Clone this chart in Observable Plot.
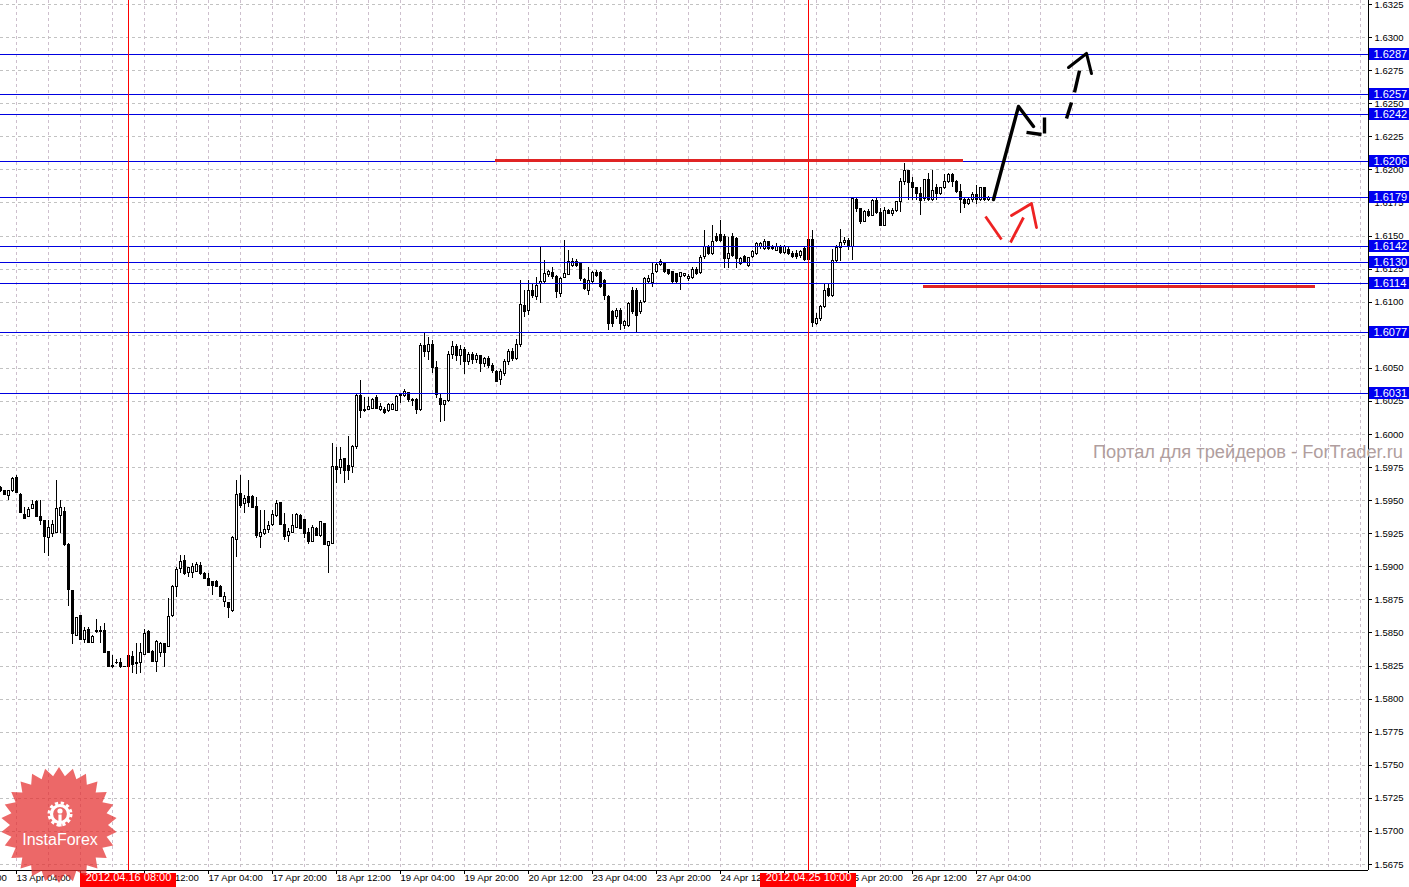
<!DOCTYPE html>
<html><head><meta charset="utf-8">
<script src="https://cdn.jsdelivr.net/npm/d3@7"></script>
<script src="https://cdn.jsdelivr.net/npm/@observablehq/plot@0.6"></script>
<style>
html,body{margin:0;padding:0;background:#fff;overflow:hidden;}
#chart{width:1409px;height:887px;}
svg g[aria-label="rule"] line, svg g[aria-label="rect"] rect {shape-rendering:crispEdges;}
</style></head><body><div id="chart"></div>
<script>
// ---- GBPUSD H1 candles, bar index 0 = 13 Apr 00:00 (weekends skipped) ----
const open = [1.59594,1.59569,1.59536,1.59571,1.59672,1.59543,1.59392,1.59380,1.59438,1.59488,
1.59380,1.59344,1.59218,1.59249,1.59256,1.59387,1.59412,1.59165,1.58820,1.58480,
1.58629,1.58447,1.58525,1.58422,1.58508,1.58515,1.58515,1.58354,1.58246,1.58271,
1.58273,1.58243,1.58324,1.58319,1.58268,1.58273,1.58334,1.58510,1.58359,1.58278,
1.58346,1.58417,1.58397,1.58626,1.58850,1.58984,1.59047,1.58951,1.58951,1.58964,
1.59009,1.58946,1.58908,1.58883,1.58888,1.58850,1.58732,1.58727,1.58669,1.59203,
1.59551,1.59475,1.59531,1.59525,1.59450,1.59223,1.59248,1.59281,1.59316,1.59382,
1.59480,1.59316,1.59231,1.59253,1.59291,1.59387,1.59357,1.59253,1.59190,1.59286,
1.59231,1.59324,1.59160,1.59173,1.59752,1.59745,1.59815,1.59765,1.59752,1.59903,
1.60294,1.60188,1.60186,1.60193,1.60276,1.60186,1.60188,1.60181,1.60186,1.60181,
1.60292,1.60294,1.60314,1.60261,1.60261,1.60188,1.60670,1.60620,1.60680,1.60500,
1.60270,1.60220,1.60250,1.60600,1.60660,1.60590,1.60640,1.60550,1.60600,1.60560,
1.60590,1.60530,1.60570,1.60520,1.60470,1.60410,1.60460,1.60550,1.60620,1.60570,
1.60680,1.60973,1.60930,1.61088,1.61037,1.61134,1.61151,1.61206,1.61220,1.61189,
1.61058,1.61184,1.61206,1.61277,1.61307,1.61289,1.61168,1.61088,1.61151,1.61219,
1.61219,1.61163,1.61037,1.60924,1.60886,1.60930,1.60823,1.60823,1.61083,1.61088,
1.60924,1.61000,1.61151,1.61143,1.61231,1.61282,1.61297,1.61244,1.61226,1.61214,
1.61189,1.61201,1.61176,1.61184,1.61246,1.61221,1.61340,1.61415,1.61365,1.61491,
1.61504,1.61491,1.61327,1.61491,1.61478,1.61289,1.61340,1.61277,1.61340,1.61365,
1.61415,1.61403,1.61453,1.61415,1.61390,1.61415,1.61372,1.61395,1.61365,1.61365,
1.61352,1.61400,1.61320,1.61470,1.60836,1.60873,1.60962,1.61100,1.61045,1.61310,
1.61410,1.61445,1.61466,1.61415,1.61776,1.61705,1.61604,1.61685,1.61650,1.61768,
1.61672,1.61579,1.61692,1.61667,1.61690,1.61755,1.61907,1.61990,1.61902,1.61864,
1.61818,1.61780,1.61920,1.61770,1.61860,1.61820,1.61860,1.61910,1.61960,1.61910,
1.61830,1.61770,1.61740,1.61770,1.61810,1.61770,1.61860,1.61770];
const high = [1.59606,1.59576,1.59576,1.59677,1.59690,1.59551,1.59450,1.59450,1.59501,1.59501,
1.59501,1.59349,1.59349,1.59349,1.59652,1.59501,1.59450,1.59173,1.58820,1.58619,
1.58634,1.58543,1.58543,1.58477,1.58601,1.58551,1.58568,1.58356,1.58329,1.58299,
1.58309,1.58246,1.58329,1.58362,1.58417,1.58422,1.58523,1.58518,1.58367,1.58442,
1.58430,1.58422,1.58757,1.58858,1.58992,1.59085,1.59085,1.58997,1.59022,1.59034,
1.59034,1.58954,1.58946,1.58883,1.58896,1.58855,1.58808,1.58732,1.59228,1.59652,
1.59690,1.59538,1.59652,1.59538,1.59525,1.59425,1.59425,1.59341,1.59425,1.59500,
1.59488,1.59399,1.59286,1.59394,1.59399,1.59392,1.59357,1.59286,1.59311,1.59294,
1.59341,1.59329,1.59193,1.59934,1.59903,1.59898,1.59815,1.59987,1.59916,1.60312,
1.60407,1.60281,1.60281,1.60269,1.60294,1.60231,1.60206,1.60236,1.60231,1.60294,
1.60307,1.60337,1.60314,1.60274,1.60269,1.60690,1.60770,1.60730,1.60710,1.60550,
1.60300,1.60260,1.60630,1.60700,1.60680,1.60670,1.60660,1.60620,1.60620,1.60610,
1.60600,1.60580,1.60590,1.60540,1.60480,1.60490,1.60570,1.60640,1.60650,1.60720,
1.61163,1.61088,1.61163,1.61130,1.61189,1.61415,1.61315,1.61240,1.61260,1.61200,
1.61190,1.61466,1.61390,1.61327,1.61320,1.61300,1.61180,1.61264,1.61230,1.61240,
1.61230,1.61170,1.61050,1.60940,1.60950,1.60950,1.60860,1.61000,1.61113,1.61100,
1.61010,1.61189,1.61200,1.61302,1.61302,1.61320,1.61302,1.61250,1.61230,1.61220,
1.61226,1.61220,1.61210,1.61260,1.61260,1.61350,1.61540,1.61430,1.61580,1.61520,
1.61620,1.61510,1.61491,1.61516,1.61490,1.61340,1.61350,1.61340,1.61390,1.61450,
1.61450,1.61470,1.61460,1.61430,1.61440,1.61430,1.61430,1.61410,1.61380,1.61390,
1.61390,1.61410,1.61500,1.61542,1.60911,1.60974,1.61138,1.61130,1.61395,1.61428,
1.61549,1.61491,1.61478,1.61793,1.61780,1.61710,1.61690,1.61700,1.61773,1.61780,
1.61705,1.61718,1.61700,1.61710,1.61760,1.61932,1.62045,1.61995,1.61940,1.61869,
1.61870,1.61930,1.61970,1.61995,1.61890,1.61870,1.61965,1.61970,1.61970,1.61920,
1.61890,1.61780,1.61780,1.61830,1.61880,1.61860,1.61870,1.61800];
const low = [1.59564,1.59538,1.59501,1.59564,1.59551,1.59400,1.59357,1.59375,1.59433,1.59375,
1.59312,1.59102,1.59077,1.59223,1.59249,1.59249,1.59153,1.58702,1.58410,1.58475,
1.58442,1.58422,1.58422,1.58417,1.58493,1.58422,1.58344,1.58236,1.58228,1.58261,
1.58228,1.58236,1.58241,1.58190,1.58185,1.58190,1.58329,1.58341,1.58278,1.58203,
1.58316,1.58236,1.58392,1.58619,1.58770,1.58946,1.58934,1.58921,1.58908,1.58959,
1.58934,1.58903,1.58858,1.58782,1.58845,1.58765,1.58694,1.58611,1.58656,1.59072,
1.59438,1.59400,1.59450,1.59437,1.59215,1.59140,1.59236,1.59248,1.59306,1.59374,
1.59311,1.59198,1.59185,1.59248,1.59286,1.59281,1.59210,1.59165,1.59185,1.59231,
1.59223,1.59160,1.58946,1.59168,1.59626,1.59694,1.59631,1.59651,1.59702,1.59883,
1.60118,1.60168,1.60181,1.60186,1.60186,1.60176,1.60150,1.60168,1.60181,1.60176,
1.60236,1.60281,1.60244,1.60213,1.60150,1.60170,1.60580,1.60560,1.60460,1.60270,
1.60090,1.60100,1.60240,1.60570,1.60550,1.60520,1.60450,1.60520,1.60530,1.60540,
1.60470,1.60510,1.60500,1.60460,1.60390,1.60370,1.60440,1.60520,1.60550,1.60560,
1.60660,1.60886,1.60898,1.61030,1.61010,1.60987,1.61138,1.61190,1.61170,1.61025,
1.61037,1.61176,1.61200,1.61264,1.61260,1.61160,1.61090,1.61050,1.61140,1.61190,
1.61100,1.61012,1.60785,1.60810,1.60870,1.60785,1.60790,1.60811,1.60910,1.60760,
1.60910,1.60987,1.61140,1.61113,1.61214,1.61270,1.61214,1.61200,1.61140,1.61140,
1.61088,1.61190,1.61160,1.61170,1.61200,1.61210,1.61320,1.61350,1.61350,1.61450,
1.61450,1.61252,1.61252,1.61340,1.61252,1.61280,1.61290,1.61260,1.61330,1.61350,
1.61400,1.61390,1.61390,1.61390,1.61380,1.61360,1.61360,1.61350,1.61330,1.61320,
1.61330,1.61310,1.61310,1.60808,1.60823,1.60856,1.60949,1.61037,1.61037,1.61300,
1.61310,1.61430,1.61390,1.61314,1.61680,1.61590,1.61600,1.61640,1.61645,1.61660,
1.61574,1.61570,1.61660,1.61650,1.61680,1.61680,1.61880,1.61768,1.61770,1.61768,
1.61655,1.61760,1.61760,1.61760,1.61770,1.61810,1.61850,1.61900,1.61870,1.61820,
1.61670,1.61710,1.61730,1.61750,1.61740,1.61760,1.61760,1.61760];
const close = [1.59576,1.59543,1.59571,1.59664,1.59559,1.59407,1.59362,1.59430,1.59468,1.59380,
1.59344,1.59223,1.59291,1.59312,1.59438,1.59443,1.59165,1.58825,1.58493,1.58614,
1.58447,1.58518,1.58427,1.58472,1.58513,1.58505,1.58346,1.58241,1.58251,1.58276,
1.58241,1.58239,1.58246,1.58258,1.58273,1.58349,1.58493,1.58346,1.58283,1.58430,
1.58417,1.58349,1.58619,1.58850,1.58979,1.59034,1.58946,1.58989,1.58997,1.59014,
1.58946,1.58908,1.58858,1.58858,1.58850,1.58770,1.58770,1.58687,1.59218,1.59543,
1.59463,1.59513,1.59483,1.59442,1.59231,1.59256,1.59278,1.59311,1.59394,1.59475,
1.59316,1.59223,1.59266,1.59311,1.59392,1.59286,1.59248,1.59190,1.59294,1.59236,
1.59336,1.59168,1.59190,1.59752,1.59735,1.59808,1.59727,1.59727,1.59908,1.60294,
1.60181,1.60176,1.60211,1.60261,1.60193,1.60211,1.60160,1.60223,1.60226,1.60281,
1.60297,1.60319,1.60261,1.60251,1.60188,1.60670,1.60620,1.60680,1.60500,1.60300,
1.60220,1.60250,1.60600,1.60660,1.60590,1.60640,1.60550,1.60600,1.60560,1.60590,
1.60530,1.60570,1.60520,1.60480,1.60400,1.60470,1.60550,1.60620,1.60570,1.60680,
1.60980,1.60924,1.61088,1.61050,1.61126,1.61155,1.61214,1.61226,1.61190,1.61075,
1.61176,1.61214,1.61307,1.61307,1.61277,1.61176,1.61100,1.61163,1.61219,1.61201,
1.61113,1.61050,1.60836,1.60836,1.60930,1.60836,1.60848,1.60987,1.60924,1.60898,
1.60995,1.61176,1.61176,1.61214,1.61282,1.61302,1.61226,1.61214,1.61151,1.61151,
1.61219,1.61214,1.61194,1.61246,1.61214,1.61335,1.61415,1.61365,1.61453,1.61466,
1.61466,1.61327,1.61365,1.61352,1.61327,1.61327,1.61302,1.61335,1.61378,1.61436,
1.61436,1.61453,1.61403,1.61403,1.61420,1.61372,1.61420,1.61365,1.61340,1.61340,
1.61378,1.61320,1.61470,1.60839,1.60873,1.60962,1.61088,1.61045,1.61310,1.61410,
1.61445,1.61466,1.61415,1.61781,1.61705,1.61604,1.61685,1.61650,1.61768,1.61672,
1.61579,1.61692,1.61667,1.61690,1.61755,1.61907,1.61995,1.61902,1.61864,1.61818,
1.61768,1.61920,1.61770,1.61840,1.61820,1.61860,1.61910,1.61960,1.61910,1.61830,
1.61770,1.61740,1.61770,1.61810,1.61770,1.61860,1.61770,1.61790];

// time axis labels (bar index of each labelled hour); the two labels hidden under the
// highlighted event stamps are not shown in the original, so they are left out here
const timeLabels = ["12 Apr 12:00","13 Apr 04:00","16 Apr 12:00","17 Apr 04:00","17 Apr 20:00",
  "18 Apr 12:00","19 Apr 04:00","19 Apr 20:00","20 Apr 12:00","23 Apr 04:00","23 Apr 20:00","24 Apr 12:00",
  "25 Apr 20:00","26 Apr 12:00","27 Apr 04:00"];
const timeLabelBars = [-12,4,36,52,68,84,100,116,132,148,164,180,212,228,244];
const timeTickBars = [-12,4,20,36,52,68,84,100,116,132,148,164,180,196,212,228,244];
// vertical event lines
const eventBars = [32, 202];
const eventLabels = ["2012.04.16 08:00","2012.04.25 10:00"];
// horizontal price levels
const levels = [1.6287,1.6257,1.6242,1.6206,1.6179,1.6142,1.6130,1.6114,1.6077,1.6031];
// red thick analyst lines
const redStart = [123.75, 230.75];
const redEnd = [240.75, 328.75];
const redPrice = [1.62071, 1.61122];
// black forecast arrow
const blackBars = [248.25, 254.5, 258.25];
const blackPrices = [1.61776, 1.62479, 1.62328];
const blackDashX1 = [256.5, 261, 266.5, 268.5];
const blackDashY1 = [1.62283, 1.62396, 1.62388, 1.62585];
const blackDashX2 = [260.25, 261, 267.75, 269.75];
const blackDashY2 = [1.62267, 1.62275, 1.62509, 1.62751];
const blackHeadBars = [267, 271.5, 272.75];
const blackHeadPrices = [1.62774, 1.6288, 1.62728];
// red alternative arrow
const redArrX1 = [246.25, 252.5];
const redArrY1 = [1.61648, 1.61451];
const redArrX2 = [250.25, 255.75];
const redArrY2 = [1.61474, 1.6164];
const redHeadBars = [252.75, 257.75, 259];
const redHeadPrices = [1.61655, 1.61746, 1.61564];

const watermark = "Портал для трейдеров - ForTrader.ru";

// ---- build ----
const W = 1409, H = 887, MR = 41, MB = 17;
const xMax = 342;
const yDomain = [1.567043, 1.632802];
const pxY = (yDomain[1] - yDomain[0]) / (H - MB);
const bars = open.map((o, i) => ({k: i, open: o, high: high[i], low: low[i], close: close[i]}));
const bull = bars.filter(d => d.close >= d.open);
const bear = bars.filter(d => d.close < d.open);
const yTicks = d3.range(0, 27).map(i => +(1.5675 + i * 0.0025).toFixed(4));
const gridBars = d3.range(4, xMax, 8);
const idx2 = [0, 1];
const dashIdx = d3.range(blackDashX1.length);
const blackPts = blackBars.map((b, i) => [b, blackPrices[i]]);
const blackHead = blackHeadBars.map((b, i) => [b, blackHeadPrices[i]]);
const redHead = redHeadBars.map((b, i) => [b, redHeadPrices[i]]);
const levelColor = "#0000e0";

const plot = Plot.plot({
  width: W, height: H,
  marginLeft: 0, marginRight: MR, marginTop: 0, marginBottom: MB,
  x: {domain: [0, xMax], axis: null},
  y: {domain: yDomain, axis: null},
  style: {fontFamily: "'Liberation Sans', Arial, sans-serif", background: "#fff", overflow: "hidden"},
  marks: [
    // grid
    Plot.ruleX(gridBars, {x: d => d, stroke: "#cdbfcd", strokeDasharray: "3,3"}),
    Plot.ruleY(yTicks, {y: d => d, stroke: "#c2c2c2", strokeDasharray: "3,3"}),
    // candles
    Plot.ruleX(bars, {x: "k", y1: "low", y2: "high", stroke: "#000"}),
    Plot.rect(bear, {x1: d => d.k - 0.25, x2: d => d.k + 0.25, y1: "open", y2: "close", fill: "#000", stroke: "#000"}),
    Plot.rect(bull, {x1: d => d.k - 0.25, x2: d => d.k + 0.25,
      y1: d => d.open, y2: d => Math.max(d.close, d.open + pxY * 0.6), fill: "#fff", stroke: "#000"}),
    // objects
    Plot.ruleY(levels, {y: d => d, stroke: levelColor}),
    Plot.ruleX(eventBars, {x: d => d, stroke: "#ff0000"}),
    Plot.ruleY(idx2, {y: i => redPrice[i], x1: i => redStart[i], x2: i => redEnd[i], stroke: "#e02424", strokeWidth: 3}),
    Plot.line(blackPts, {x: d => d[0], y: d => d[1], stroke: "#000", strokeWidth: 3.4}),
    Plot.link(dashIdx, {x1: i => blackDashX1[i], y1: i => blackDashY1[i], x2: i => blackDashX2[i], y2: i => blackDashY2[i], stroke: "#000", strokeWidth: 3.4}),
    Plot.line(blackHead, {x: d => d[0], y: d => d[1], stroke: "#000", strokeWidth: 3}),
    Plot.link(idx2, {x1: i => redArrX1[i], y1: i => redArrY1[i], x2: i => redArrX2[i], y2: i => redArrY2[i], stroke: "#ee2222", strokeWidth: 2.8}),
    Plot.line(redHead, {x: d => d[0], y: d => d[1], stroke: "#ee2222", strokeWidth: 2.8}),
    // axes
    Plot.ruleX([xMax], {x: d => d, stroke: "#000"}),
    Plot.ruleY([yDomain[0]], {y: d => d, stroke: "#000"}),
    Plot.ruleY(yTicks, {y: d => d, x1: xMax, x2: xMax + 1, stroke: "#000"}),
    Plot.text(yTicks, {x: xMax, y: d => d, dx: 6, text: d => d.toFixed(4), textAnchor: "start", fontSize: 9.5, fill: "#000"}),
    Plot.ruleX(timeTickBars, {x: d => d, y1: yDomain[0], y2: yDomain[0] - 4 * pxY, stroke: "#000"}),
    Plot.text(timeLabelBars, {x: d => d, frameAnchor: "bottom", dy: 10.5, text: (d, i) => timeLabels[i], textAnchor: "start", fontSize: 9.6, fill: "#000"}),
    // event labels
    Plot.rect(eventBars, {x1: d => d - 12, x2: d => d + 12, y1: yDomain[0] - 3 * pxY, y2: yDomain[0] - 18 * pxY, fill: "#ff0000"}),
    Plot.text(eventBars, {x: d => d, frameAnchor: "bottom", dy: 10.5, text: (d, i) => eventLabels[i], fill: "#fff", fontSize: 11}),
    // level labels
    Plot.rect(levels, {x1: xMax + 0.25, x2: xMax + 10.5, y1: d => d - 6 * pxY, y2: d => d + 6 * pxY, fill: "#0000f0"}),
    Plot.text(levels, {x: xMax, y: d => d, dx: 5, text: d => d.toFixed(4), textAnchor: "start", fill: "#fff", fontSize: 11})
  ]
});
document.getElementById("chart").appendChild(plot);

// watermark
const svg = d3.select(plot);
const sx = plot.scale("x"), sy = plot.scale("y");
svg.append("text")
  .attr("x", sx.apply(273.25)).attr("y", sy.apply(1.5982))
  .attr("text-anchor", "start")
  .attr("font-family", "'Liberation Sans', Arial, sans-serif").attr("font-size", 18)
  .attr("fill", "#b09e9e").attr("textLength", 310).attr("lengthAdjust", "spacingAndGlyphs")
  .text(watermark);

// InstaForex badge (corner logo)
const cx = 59, cy = 825, nSp = 26, rO = 58, rI = 49;
const pts = d3.range(nSp * 2).map(i => {
  const a = Math.PI * i / nSp - Math.PI / 2, r = i % 2 ? rI : rO;
  return [cx + r * Math.cos(a), cy + r * Math.sin(a)];
});
const logo = svg.append("g");
logo.append("path").attr("d", "M" + pts.map(p => p.join(",")).join("L") + "Z")
  .attr("fill", "#e52e2e").attr("fill-opacity", 0.72);
const gear = logo.append("g").attr("transform", `translate(${cx + 1},${cy - 11})`);
gear.append("circle").attr("r", 8.5).attr("fill", "none").attr("stroke", "#fff").attr("stroke-width", 3.2);
gear.append("circle").attr("r", 11).attr("fill", "none").attr("stroke", "#fff").attr("stroke-width", 3).attr("stroke-dasharray", "3.2 2.6");
gear.append("circle").attr("cy", -3).attr("r", 2.6).attr("fill", "#fff");
gear.append("rect").attr("x", -1.6).attr("y", 0.5).attr("width", 3.2).attr("height", 12).attr("fill", "#fff");
logo.append("text").attr("x", cx + 1).attr("y", cy + 20).attr("text-anchor", "middle")
  .attr("font-family", "'Liberation Sans', Arial, sans-serif").attr("font-size", 16).attr("fill", "#fff")
  .text("InstaForex");
</script></body></html>
